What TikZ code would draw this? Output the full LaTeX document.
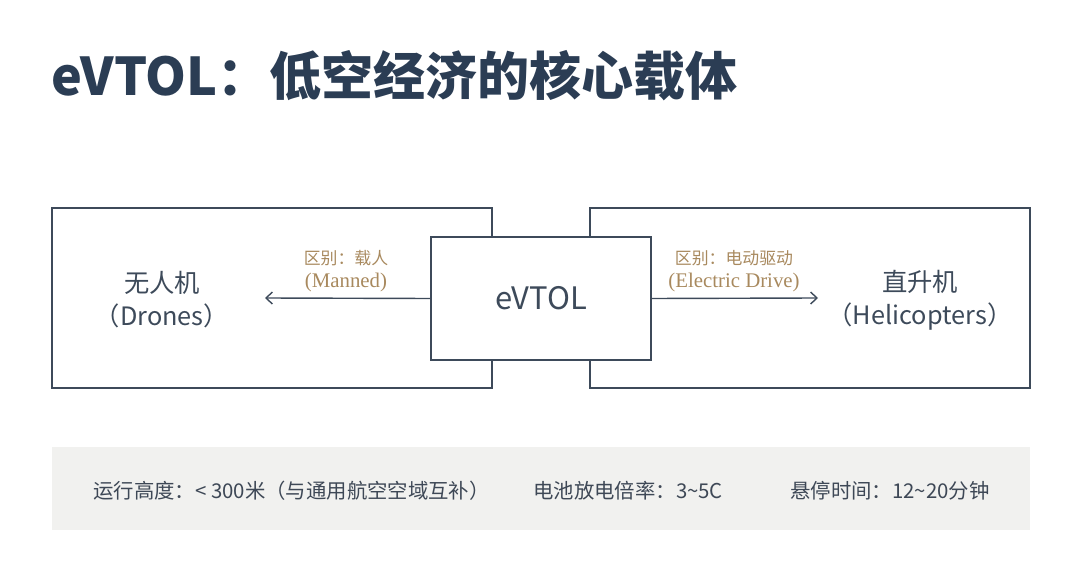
\documentclass[tikz,border=0pt]{standalone}
\usepackage{fontspec}
\setmainfont{Noto Sans CJK SC}
\newfontfamily\serifen{Liberation Serif}
\usetikzlibrary{arrows.meta,positioning}
\definecolor{navy}{HTML}{2B3D54}
\definecolor{edge}{HTML}{3D4A5A}
\definecolor{tan}{HTML}{A8895E}
\definecolor{bartext}{HTML}{3E4856}
\definecolor{barfill}{HTML}{F1F1EF}

\begin{document}
\begin{tikzpicture}[x=0.025cm, y=-0.025cm,
  box/.style={draw=edge, line width=1.3pt, minimum width=11cm, minimum height=4.5cm},
  vehicle/.style={text=edge, inner sep=0pt, align=center, font=\fontsize{18}{23.5}\selectfont},
  diff/.style={text=tan, inner sep=0pt, align=center, font=\fontsize{12}{16}\selectfont},
  fact/.style={text=bartext, inner sep=0pt, anchor=west, font=\fontsize{14.5}{18}\selectfont},
  link/.style={draw=edge, line width=1pt, -{Straight Barb[length=1.6mm,width=3mm]}}]
\useasboundingbox (0,0) rectangle (1080,583);

% title
\node[anchor=west, inner sep=0pt, text=navy, font=\fontsize{37}{44}\selectfont\bfseries] (title) at (51,76) {eVTOL：低空经济的核心载体};

% the three boxes
\node[box] (drones) at (272,298) {};
\node[box] (heli) at (810,298) {};
\node[box, fill=white, minimum width=5.5cm, minimum height=3.075cm, text=edge, font=\fontsize{22}{26}\selectfont] (evtol) at (541,298.5) {eVTOL};

\node[vehicle] (dronesTxt) at (162,300) {无人机\\（Drones）};
\node[vehicle] (heliTxt) at (920,300) {直升机\\（Helicopters）};

% differences
\coordinate (dronesTip) at (265,298);
\coordinate (heliTip) at (818,298);
\draw[link] (evtol.west) -- (dronesTip);
\draw[link] (evtol.east) -- (heliTip);
\node[diff] (manned) at (346,271) {区别：载人\\{\serifen\fontsize{14.8}{16}\selectfont (Manned)}};
\node[diff] (electric) at (734,271) {区别：电动驱动\\{\serifen\fontsize{14.8}{16}\selectfont (Electric Drive)}};

% key figures
\fill[barfill] (52,447) rectangle (1030,530);
\node[fact] (height) at (93,491) {运行高度：< 300米（与通用航空空域互补）};
\node[fact] (rate) at (533,491) {电池放电倍率：3\char`~5C};
\node[fact] (hover) at (790,491) {悬停时间：12\char`~20分钟};
\end{tikzpicture}
\end{document}
